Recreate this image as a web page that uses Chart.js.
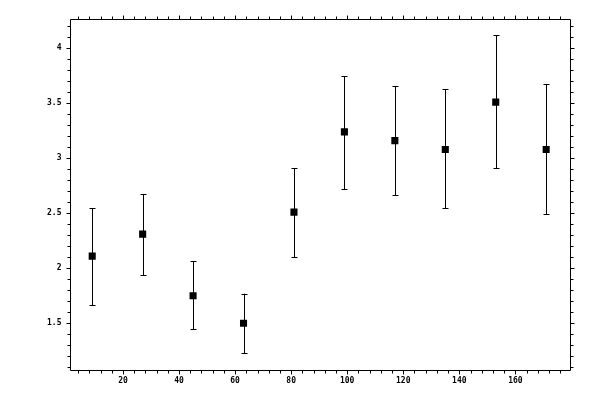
<!DOCTYPE html>
<html>
<head>
<meta charset="utf-8">
<script src="https://cdn.jsdelivr.net/npm/chart.js@4.4.1/dist/chart.umd.min.js"></script>
<style>
  html, body { margin: 0; padding: 0; background: #ffffff; }
  #wrap { width: 600px; height: 400px; }
</style>
</head>
<body>
<div id="wrap"><canvas id="errChart" width="600" height="400"></canvas></div>
<script>
// dados
const xValues = [9, 27, 45, 63, 81, 99, 117, 135, 153, 171];
const yValues = [2.11, 2.31, 1.75, 1.50, 2.51, 3.24, 3.16, 3.08, 3.51, 3.08];
const yUpper = [2.545, 2.675, 2.064, 1.769, 2.909, 3.745, 3.655, 3.627, 4.118, 3.673];
const yLower = [1.664, 1.936, 1.445, 1.227, 2.100, 2.718, 2.664, 2.545, 2.909, 2.491];

// ticks do eixo
const xMajorStep = 20;
const xMinorStep = 4;
const yMajorStep = 0.5;
const yMinorStep = 0.1;

document.addEventListener("DOMContentLoaded", function () {
    if (typeof Chart === "undefined") {
        console.error("Chart.js não está carregado");
        return;
    }

    const points = xValues.map((x, i) => ({ x: x, y: yValues[i] }));

    // barras de erro + moldura com ticks
    const errorBarsPlugin = {
        id: "errorBars",
        afterDatasetsDraw(chart) {
            const ctx = chart.ctx;
            const xs = chart.scales.x;
            const ys = chart.scales.y;
            ctx.save();
            ctx.strokeStyle = "#000000";
            ctx.lineWidth = 1;
            for (let i = 0; i < xValues.length; i++) {
                const px = Math.round(xs.getPixelForValue(xValues[i])) + 0.5;
                const top = ys.getPixelForValue(yUpper[i]);
                const bot = ys.getPixelForValue(yLower[i]);
                ctx.beginPath();
                ctx.moveTo(px, top);
                ctx.lineTo(px, bot);
                ctx.moveTo(px - 3, Math.round(top) + 0.5);
                ctx.lineTo(px + 3, Math.round(top) + 0.5);
                ctx.moveTo(px - 3, Math.round(bot) + 0.5);
                ctx.lineTo(px + 3, Math.round(bot) + 0.5);
                ctx.stroke();
            }
            ctx.restore();
        },
        afterDraw(chart) {
            const ctx = chart.ctx;
            const a = chart.chartArea;
            const xs = chart.scales.x;
            const ys = chart.scales.y;
            const L = Math.round(a.left) + 0.5;
            const R = Math.round(a.right) + 0.5;
            const T = Math.round(a.top) + 0.5;
            const B = Math.round(a.bottom) + 0.5;
            ctx.save();
            ctx.strokeStyle = "#000000";
            ctx.lineWidth = 1;
            ctx.beginPath();
            ctx.rect(L, T, R - L, B - T);

            const xStart = Math.ceil(xs.min / xMinorStep) * xMinorStep;
            for (let v = xStart; v <= xs.max; v += xMinorStep) {
                const p = Math.round(xs.getPixelForValue(v)) + 0.5;
                const len = v % xMajorStep === 0 ? 4 : 3;
                ctx.moveTo(p, B);
                ctx.lineTo(p, B + len);
                ctx.moveTo(p, T);
                ctx.lineTo(p, T - len);
            }
            const yStart = Math.ceil(ys.min / yMinorStep);
            const yEnd = Math.floor(ys.max / yMinorStep);
            for (let k = yStart; k <= yEnd; k++) {
                const v = k * yMinorStep;
                const p = Math.round(ys.getPixelForValue(v)) + 0.5;
                const len = k % 5 === 0 ? 4 : 3;
                ctx.moveTo(L, p);
                ctx.lineTo(L - len, p);
                ctx.moveTo(R, p);
                ctx.lineTo(R + len, p);
            }
            ctx.stroke();
            ctx.restore();
        },
    };

    const tickFont = { family: "DejaVu Sans Mono", size: 8, weight: "bold" };

    new Chart(document.getElementById("errChart").getContext("2d"), {
        type: "scatter",
        data: {
            datasets: [
                {
                    data: points,
                    pointStyle: "rect",
                    pointRadius: 5,
                    pointHoverRadius: 5,
                    backgroundColor: "#000000",
                    borderColor: "#000000",
                    borderWidth: 0,
                },
            ],
        },
        options: {
            responsive: false,
            animation: false,
            events: [],
            layout: { padding: { top: 19, right: 30, left: 0, bottom: 0 } },
            plugins: {
                legend: { display: false },
                tooltip: { enabled: false },
            },
            scales: {
                x: {
                    type: "linear",
                    min: 0.9,
                    max: 179.5,
                    grid: { display: false, drawTicks: false },
                    border: { display: false },
                    ticks: {
                        stepSize: xMajorStep,
                        includeBounds: false,
                        color: "#000000",
                        font: tickFont,
                        padding: 6,
                        maxRotation: 0,
                    },
                    afterFit: function (scale) { scale.height = 30; },
                },
                y: {
                    type: "linear",
                    min: 1.075,
                    max: 4.266,
                    grid: { display: false, drawTicks: false },
                    border: { display: false },
                    ticks: {
                        stepSize: yMajorStep,
                        includeBounds: false,
                        color: "#000000",
                        font: tickFont,
                        padding: 8,
                        callback: function (v) { return String(Math.round(v * 10) / 10); },
                    },
                    afterFit: function (scale) { scale.width = 69.5; },
                },
            },
        },
        plugins: [errorBarsPlugin],
    });
});
</script>
</body>
</html>
